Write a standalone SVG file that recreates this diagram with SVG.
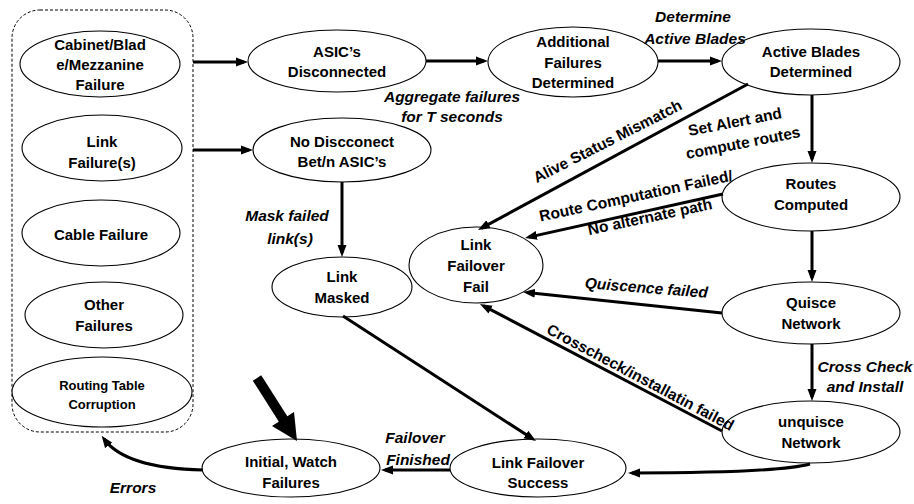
<svg xmlns="http://www.w3.org/2000/svg" width="914" height="504" viewBox="0 0 914 504">
  <style>
    .bg { fill: #ffffff; }
    .node ellipse { fill: #ffffff; stroke: #000000; stroke-width: 1.1; }
    .nt { font-family: "Liberation Sans", Arial, sans-serif; font-weight: bold; font-size: 15px; text-anchor: middle; fill: #000000; }
    .small { font-size: 13px; }
    .lbl { font-family: "Liberation Sans", Arial, sans-serif; font-weight: bold; font-style: italic; font-size: 15.5px; text-anchor: middle; fill: #000000; }
    .rl { font-family: "Liberation Sans", Arial, sans-serif; font-weight: bold; font-size: 15.5px; text-anchor: middle; fill: #000000; }
    .conn line, .conn path { stroke: #000000; stroke-width: 3; fill: none; marker-end: url(#ah); }
    .group-box { fill: none; stroke: #000000; stroke-width: 1; stroke-dasharray: 3 2; }
  </style>
  <defs>
    <marker id="ah" viewBox="0 0 12 10" refX="8" refY="5" markerWidth="12" markerHeight="10" markerUnits="userSpaceOnUse" orient="auto">
      <path d="M0,0.5 L12,5 L0,9.5 Z" fill="#000000"/>
    </marker>
  </defs>

  <rect class="bg" x="0" y="0" width="914" height="504"/>

  <!-- failure sources grouped in a dashed box -->
  <rect class="group-box" x="12" y="10" width="181" height="422" rx="28" ry="28"/>

  <g id="n-cabinet" class="node">
    <ellipse cx="100" cy="64" rx="80" ry="33"/>
    <text class="nt" x="100" y="50">Cabinet/Blad</text>
    <text class="nt" x="100" y="70">e/Mezzanine</text>
    <text class="nt" x="100" y="90">Failure</text>
  </g>
  <g id="n-link-failure" class="node">
    <ellipse cx="102" cy="148" rx="80" ry="33"/>
    <text class="nt" x="102" y="147">Link</text>
    <text class="nt" x="102" y="168">Failure(s)</text>
  </g>
  <g id="n-cable" class="node">
    <ellipse cx="101" cy="233" rx="79" ry="33"/>
    <text class="nt" x="101" y="240">Cable Failure</text>
  </g>
  <g id="n-other" class="node">
    <ellipse cx="104" cy="315" rx="79" ry="33"/>
    <text class="nt" x="104" y="310">Other</text>
    <text class="nt" x="104" y="331">Failures</text>
  </g>
  <g id="n-routing" class="node">
    <ellipse cx="102" cy="392" rx="90" ry="35"/>
    <text class="nt small" x="102" y="389.5">Routing Table</text>
    <text class="nt small" x="102" y="408.5">Corruption</text>
  </g>

  <g id="n-asic" class="node">
    <ellipse cx="337" cy="61" rx="89" ry="31"/>
    <text class="nt" x="337" y="57">ASIC’s</text>
    <text class="nt" x="337" y="77">Disconnected</text>
  </g>
  <g id="n-nodisc" class="node">
    <ellipse cx="342" cy="150" rx="89" ry="32"/>
    <text class="nt" x="342" y="147">No Discconect</text>
    <text class="nt" x="342" y="167">Bet/n ASIC’s</text>
  </g>
  <g id="n-additional" class="node">
    <ellipse cx="573" cy="62" rx="85" ry="35"/>
    <text class="nt" x="573" y="47">Additional</text>
    <text class="nt" x="573" y="68">Failures</text>
    <text class="nt" x="573" y="88">Determined</text>
  </g>
  <g id="n-active" class="node">
    <ellipse cx="811" cy="62" rx="89" ry="33"/>
    <text class="nt" x="811" y="57">Active Blades</text>
    <text class="nt" x="811" y="77">Determined</text>
  </g>
  <g id="n-routes" class="node">
    <ellipse cx="811" cy="197" rx="89" ry="34"/>
    <text class="nt" x="811" y="189">Routes</text>
    <text class="nt" x="811" y="210">Computed</text>
  </g>
  <g id="n-fail" class="node">
    <ellipse cx="476" cy="265" rx="67" ry="38"/>
    <text class="nt" x="476" y="250">Link</text>
    <text class="nt" x="476" y="271">Failover</text>
    <text class="nt" x="476" y="292">Fail</text>
  </g>
  <g id="n-masked" class="node">
    <ellipse cx="342" cy="287" rx="70" ry="30"/>
    <text class="nt" x="342" y="282">Link</text>
    <text class="nt" x="342" y="303">Masked</text>
  </g>
  <g id="n-quisce" class="node">
    <ellipse cx="811" cy="313" rx="89" ry="31"/>
    <text class="nt" x="811" y="308">Quisce</text>
    <text class="nt" x="811" y="329">Network</text>
  </g>
  <g id="n-unquisce" class="node">
    <ellipse cx="811" cy="432" rx="89" ry="31"/>
    <text class="nt" x="811" y="427">unquisce</text>
    <text class="nt" x="811" y="448">Network</text>
  </g>
  <g id="n-success" class="node">
    <ellipse cx="538" cy="468" rx="88" ry="29"/>
    <text class="nt" x="538" y="468">Link Failover</text>
    <text class="nt" x="538" y="488">Success</text>
  </g>
  <g id="n-initial" class="node">
    <ellipse cx="291" cy="468" rx="89" ry="29"/>
    <text class="nt" x="291" y="467">Initial, Watch</text>
    <text class="nt" x="291" y="488">Failures</text>
  </g>

  <!-- transitions -->
  <g id="connectors" class="conn">
    <line x1="193" y1="62" x2="244" y2="62"/>
    <line x1="193" y1="150" x2="249" y2="150"/>
    <line x1="426" y1="61" x2="484" y2="61"/>
    <line x1="658" y1="61" x2="718" y2="61"/>
    <line x1="812" y1="95" x2="812" y2="159"/>
    <line x1="812" y1="231" x2="812" y2="278"/>
    <line x1="812" y1="344" x2="812" y2="397"/>
    <line x1="748" y1="84" x2="481.5" y2="228.1"/>
    <line x1="723" y1="194" x2="528.9" y2="237.1"/>
    <line x1="722" y1="313" x2="527" y2="292.4"/>
    <line x1="722" y1="431" x2="483.5" y2="305.9"/>
    <line x1="342" y1="182" x2="342" y2="253"/>
    <line x1="343" y1="316" x2="532.6" y2="438.8"/>
    <line x1="450" y1="470" x2="385" y2="470"/>
    <path d="M810,464 C780,472 700,473 632,473"/>
    <path d="M203,470 C160,469 120,461 104,439"/>
    <!-- entry arrow into the initial state -->
    <line x1="257" y1="378" x2="285" y2="422" style="stroke-width:10; marker-end:none"/>
    <polygon points="297,441 272,426 294,412" fill="#000000"/>
  </g>

  <!-- transition labels -->
  <g id="labels">
    <text class="lbl" x="452" y="102">Aggregate failures</text>
    <text class="lbl" x="452" y="122">for T seconds</text>
    <text class="lbl" x="693" y="22">Determine</text>
    <text class="lbl" x="695" y="44">Active Blades</text>
    <text class="lbl" x="287" y="221">Mask failed</text>
    <text class="lbl" x="290" y="244">link(s)</text>
    <text class="lbl" x="865" y="372">Cross Check</text>
    <text class="lbl" x="865" y="392">and Install</text>
    <text class="lbl" x="415" y="443">Failover</text>
    <text class="lbl" x="418" y="465">Finished</text>
    <text class="lbl" x="133" y="493">Errors</text>

    <text class="rl" transform="translate(610,146) rotate(-27)">Alive Status Mismatch</text>
    <text class="rl" transform="translate(637,201) rotate(-12)">Route Computation Failed/</text>
    <text class="rl" transform="translate(651,222) rotate(-12)">No alternate path</text>
    <text class="rl" transform="translate(736,127) rotate(-11)">Set Alert and</text>
    <text class="rl" transform="translate(744,148) rotate(-11)">compute routes</text>
    <text class="lbl" transform="translate(646,293) rotate(4.5)">Quiscence failed</text>
    <text class="rl" transform="translate(638,382) rotate(28)">Crosscheck/installatin failed</text>
  </g>
</svg>
